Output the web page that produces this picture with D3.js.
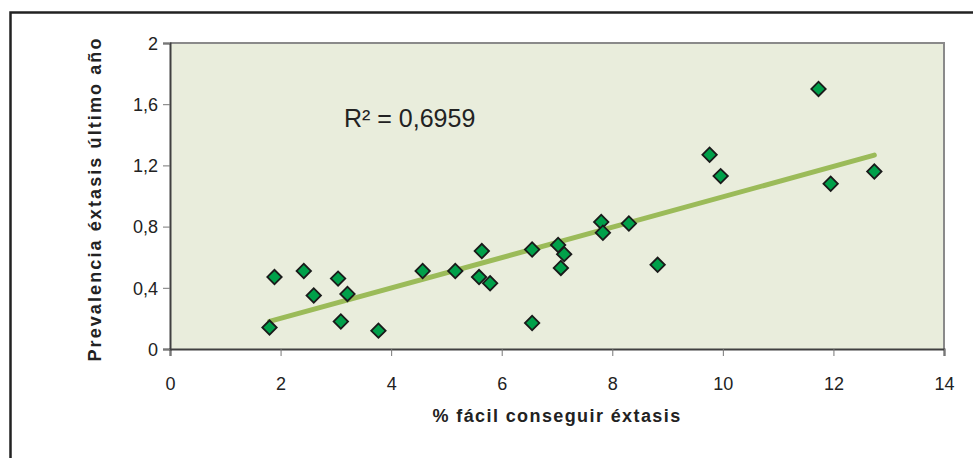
<!DOCTYPE html>
<html>
<head>
<meta charset="utf-8">
<script src="https://cdn.jsdelivr.net/npm/d3@7"></script>
<style>
  body { margin: 0; background: #fff; }
  text { font-family: "Liberation Sans", Arial, sans-serif; }
</style>
</head>
<body>
<svg width="973" height="458"></svg>
<script>
// % fácil conseguir éxtasis (x) and prevalencia último año (y)
const facil = [1.80, 1.89, 2.42, 2.60, 3.04, 3.21, 3.09, 3.77, 4.57, 5.16, 5.64, 5.59, 5.79,
  6.55, 6.55, 7.02, 7.13, 7.07, 7.80, 7.83, 8.30, 8.82, 9.76, 9.96, 11.73, 11.95, 12.74];
const prevalencia = [0.14, 0.47, 0.51, 0.35, 0.46, 0.36, 0.18, 0.12, 0.51, 0.51, 0.64, 0.47, 0.43,
  0.17, 0.65, 0.68, 0.62, 0.53, 0.83, 0.76, 0.82, 0.55, 1.27, 1.13, 1.70, 1.08, 1.16];
const xTicks = [0, 2, 4, 6, 8, 10, 12, 14];
const yTicks = [0, 0.4, 0.8, 1.2, 1.6, 2];
const r2Label = "R² = 0,6959";

const svg = d3.select('svg');

// outer frame
svg.append('rect')
  .attr('x', 10.5).attr('y', 12.5)
  .attr('width', 1000).attr('height', 500)
  .attr('fill', 'none')
  .attr('stroke', '#222')
  .attr('stroke-width', 2.5);

const x = d3.scaleLinear().domain([0, 14]).range([170, 944]);
const y = d3.scaleLinear().domain([0, 2]).range([349, 43]);

const es = d3.formatLocale({ decimal: ",", thousands: ".", grouping: [3], currency: ["", "€"] });
const fmt = es.format("~g");

// plot area
svg.append('rect')
  .attr('x', x(0)).attr('y', y(2))
  .attr('width', x(14) - x(0)).attr('height', y(0) - y(2))
  .attr('fill', '#e9eddc');

// top and right border
svg.append('path')
  .attr('d', `M${x(0)},${y(2)}H${x(14)}V${y(0)}`)
  .attr('fill', 'none')
  .attr('stroke', '#8a8a8a')
  .attr('stroke-width', 2);

// axes
const xAxis = d3.axisBottom(x).tickValues(xTicks).tickSize(7).tickPadding(21).tickFormat(fmt);
const yAxis = d3.axisLeft(y).tickValues(yTicks).tickSize(7).tickPadding(5).tickFormat(fmt);

const gx = svg.append('g').attr('transform', `translate(0,${y(0)})`).call(xAxis);
const gy = svg.append('g').attr('transform', `translate(${x(0)},0)`).call(yAxis);

[gx, gy].forEach(g => {
  g.select('.domain').attr('stroke', '#404040').attr('stroke-width', 2);
  g.selectAll('.tick line').attr('stroke', '#777').attr('stroke-width', 1);
  g.selectAll('.tick text')
    .attr('fill', '#222')
    .style('font-size', '18px')
    .style('font-family', '"Liberation Sans", Arial, sans-serif');
});
gy.selectAll('.tick text').attr('dy', '0.35em');

// regression line
const n = facil.length;
const mx = d3.mean(facil), my = d3.mean(prevalencia);
let sxy = 0, sxx = 0;
for (let i = 0; i < n; i++) {
  sxy += (facil[i] - mx) * (prevalencia[i] - my);
  sxx += (facil[i] - mx) ** 2;
}
const slope = sxy / sxx;
const icept = my - slope * mx;
const [x0, x1] = d3.extent(facil);

svg.append('line')
  .attr('x1', x(x0)).attr('y1', y(icept + slope * x0))
  .attr('x2', x(x1)).attr('y2', y(icept + slope * x1))
  .attr('stroke', '#9bbb59')
  .attr('stroke-width', 5)
  .attr('stroke-linecap', 'round');

// points
const diamond = d3.symbol().type(d3.symbolSquare).size(104);
svg.selectAll('path.pt')
  .data(facil.map((d, i) => [d, prevalencia[i]]))
  .enter()
  .append('path')
  .attr('class', 'pt')
  .attr('d', diamond)
  .attr('transform', d => `translate(${x(d[0])},${y(d[1])}) rotate(45)`)
  .attr('fill', '#00a04a')
  .attr('stroke', '#1a1a1a')
  .attr('stroke-width', 1.8);

// R² label
svg.append('text')
  .attr('x', 344).attr('y', 127)
  .style('font-size', '25px')
  .attr('fill', '#222')
  .text(r2Label);

// axis titles
svg.append('text')
  .attr('x', (x(0) + x(14)) / 2).attr('y', 422)
  .attr('text-anchor', 'middle')
  .style('font-size', '18px')
  .style('font-weight', 'bold')
  .style('letter-spacing', '1.4px')
  .attr('fill', '#222')
  .text('% fácil conseguir éxtasis');

svg.append('text')
  .attr('transform', `translate(101,${(y(0) + y(2)) / 2 + 3}) rotate(-90)`)
  .attr('text-anchor', 'middle')
  .style('font-size', '18px')
  .style('font-weight', 'bold')
  .style('letter-spacing', '2.1px')
  .attr('fill', '#222')
  .text('Prevalencia éxtasis último año');
</script>
</body>
</html>
